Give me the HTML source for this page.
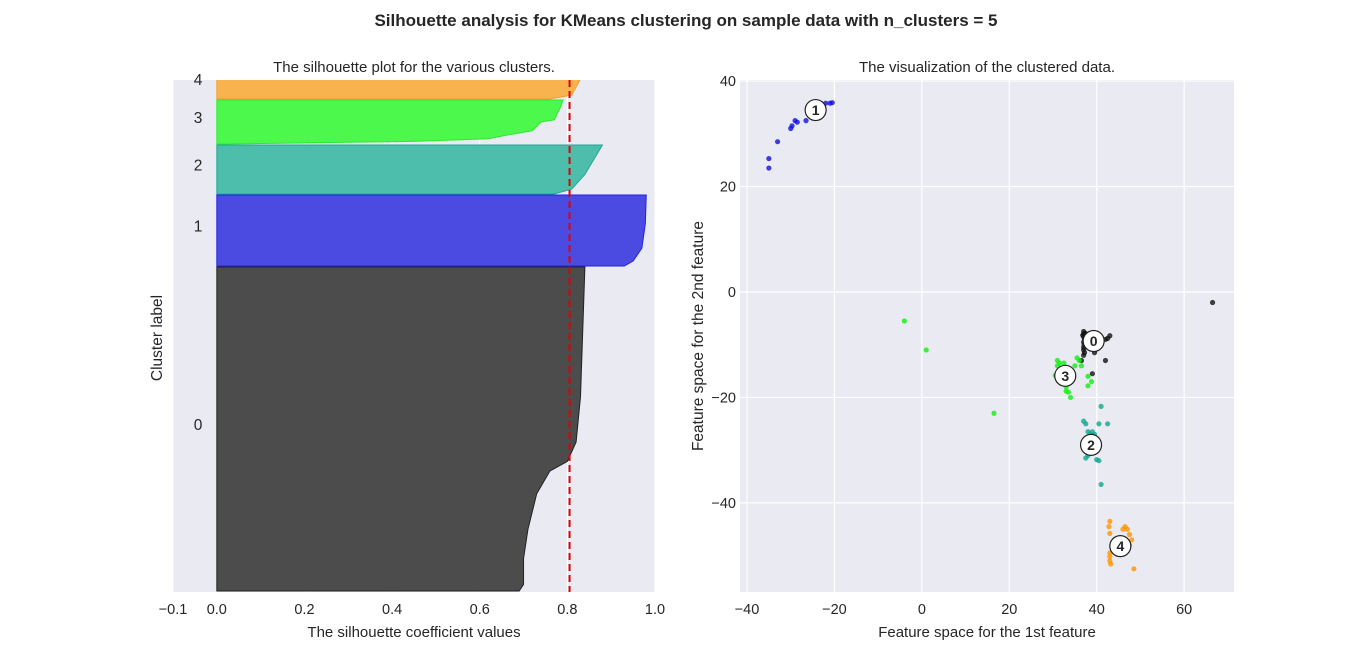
<!DOCTYPE html>
<html><head><meta charset="utf-8"><style>
body{margin:0;background:#fff;font-family:"Liberation Sans","DejaVu Sans",sans-serif;}
svg text{font-family:"Liberation Sans","DejaVu Sans",sans-serif;fill:#262626;}
</style></head><body>
<svg id="fig" width="1372" height="666" xmlns="http://www.w3.org/2000/svg">
<text x="686" y="26" text-anchor="middle" font-size="17" font-weight="bold">Silhouette analysis for KMeans clustering on sample data with n_clusters = 5</text>
<g id="left"></g>
<g id="right"></g>
</svg>
<script>
// ---- silhouette data ----
const clusterIds = [0,1,2,3,4];
const clusterSizes = [3240,710,490,440,400];
// sorted silhouette profiles: [fraction from bottom, value]
const profile0 = [[0,0.69],[0.02,0.70],[0.1,0.70],[0.19,0.71],[0.3,0.73],[0.37,0.76],[0.4,0.80],[0.46,0.82],[0.6,0.83],[0.8,0.835],[1,0.84]];
const profile1 = [[0,0.93],[0.07,0.95],[0.25,0.97],[0.6,0.978],[1,0.98]];
const profile2 = [[0,0.77],[0.1,0.81],[0.4,0.84],[0.7,0.86],[1,0.88]];
const profile3 = [[0,0.02],[0.06,0.45],[0.12,0.62],[0.2,0.66],[0.3,0.72],[0.5,0.74],[0.55,0.77],[0.85,0.785],[1,0.79]];
const profile4 = [[0,0.76],[0.1,0.81],[0.5,0.83],[1,0.88]];
const avgScore = 0.805;
const xTicksL = [-0.1,0.0,0.2,0.4,0.6,0.8,1.0];
const clusterColors = ["#464646","#4545e0","#46bca8","#46f846","#f8b048"];
const clusterEdges = ["#222","#2020ee","#20a890","#30e830","#f0a030"];
// ---- scatter data ----
const pts0 = [[37,-7.5],[37,-8],[37,-8.5],[37.2,-9],[37,-9.5],[37.1,-10],[37,-10.5],[37,-11],[37.2,-11.5],[37,-12],[36.8,-8.2],[37.3,-7.8],[38,-8],[38.5,-9],[40,-9],[41,-9.5],[42,-9],[42.5,-8.8],[43,-8.3],[42,-13],[39.5,-11.5],[39,-15.5],[36.5,-13],[66.5,-2]];
const pts1 = [[-35,23.5],[-35,25.3],[-33,28.5],[-30,31],[-29.7,31.5],[-29,32.5],[-28.5,32.2],[-26.5,32.5],[-25,34],[-24,35.5],[-23,35.7],[-22,35.8],[-21,35.8],[-20.5,35.9]];
const pts2 = [[37,-24.5],[37.5,-25],[38,-26.5],[38.5,-27],[39,-26.5],[38,-28],[37.5,-30],[38,-31],[37.5,-31.5],[40,-31.8],[40.5,-32],[41,-21.7],[42.5,-25],[40.5,-25],[41,-36.5],[39.5,-27]];
const pts3 = [[-4,-5.5],[1,-11],[16.5,-23],[31,-13],[31.5,-13.5],[31,-14],[32,-15],[31,-16],[30.5,-15.8],[33,-18],[33,-18.8],[34,-20],[35,-14],[36,-13],[36.5,-14],[38,-16],[38.8,-17],[38,-17.8],[33.5,-19],[35.5,-12.5],[32.5,-13.5]];
const pts4 = [[43,-43.5],[42.8,-44.5],[43,-45.8],[43,-49.5],[43,-50.2],[43,-51],[43.2,-51.6],[46,-45],[46.5,-44.5],[47,-45],[47.5,-46],[48,-47],[47.5,-48],[46.5,-48.5],[46,-49],[48.5,-52.5],[44,-49]];
const centers = [[39.3,-9.3],[-24.3,34.5],[38.7,-29],[32.8,-15.9],[45.4,-48.2]];
const xTicksR = [-40,-20,0,20,40,60];
const yTicksR = [-40,-20,0,20,40];

const NS="http://www.w3.org/2000/svg";
function mk(tag,attrs,parent,txt){const e=document.createElementNS(NS,tag);for(const k in attrs)e.setAttribute(k,attrs[k]);if(txt!==undefined)e.textContent=txt;parent.appendChild(e);return e;}
const fmt=v=>(v<0?"\u2212":"")+Math.abs(v);

// ---- left plot ----
const L=document.getElementById('left');
const Lx0=173,Lx1=655,Ly0=80,Ly1=592;
const lx=v=>Lx0+(v+0.1)/1.1*(Lx1-Lx0);
const yMax=5120;
const ly=v=>Ly1-v/yMax*(Ly1-Ly0);
const bgL=mk('rect',{x:Lx0,y:Ly0,width:Lx1-Lx0,height:Ly1-Ly0,fill:'#eaeaf2'},L);


for(const t of xTicksL){
 const g=mk('line',{x1:lx(t),x2:lx(t),y1:Ly0,y2:Ly1,stroke:'#fff','stroke-width':1},L);
 
 
 const tl=mk('text',{x:lx(t),y:Ly1+22,'text-anchor':'middle','font-size':14.5},L,t.toFixed(1).replace('-','\u2212'));
 
 
}
const profiles=[profile0,profile1,profile2,profile3,profile4];
const cp=mk('clipPath',{id:'clipL'},L);mk('rect',{x:Lx0,y:Ly0,width:Lx1-Lx0,height:Ly1-Ly0},cp);
const clipG=mk('g',{'clip-path':'url(#clipL)'},L);
let yl=10;
clusterIds.forEach((c,i)=>{
 const size=clusterSizes[i],prof=profiles[i];
 let d=`M${lx(0)},${ly(yl)}`;
 for(const [f,v] of prof) d+=` L${lx(v)},${ly(yl+f*size)}`;
 d+=` L${lx(0)},${ly(yl+size)} Z`;
 const p=mk('path',{d:d,fill:clusterColors[i],stroke:clusterEdges[i],'stroke-width':1,'fill-opacity':0.97},clipG);
 
 
 const ty=Math.max(ly(yl+size/2),Ly0+4);
 const lab=mk('text',{x:198,y:ty+1,'text-anchor':'middle','font-size':15.5},L,String(c));
 
 
 yl+=size+10;
});
const av=mk('line',{x1:lx(avgScore),x2:lx(avgScore),y1:Ly0,y2:Ly1,stroke:'#e00000','stroke-width':2,'stroke-dasharray':'7,4'},L);


const t1=mk('text',{x:(Lx0+Lx1)/2,y:72,'text-anchor':'middle','font-size':15},L,'The silhouette plot for the various clusters.');


const xl=mk('text',{x:(Lx0+Lx1)/2,y:637,'text-anchor':'middle','font-size':15},L,'The silhouette coefficient values');


const yt=mk('text',{x:162,y:338,'text-anchor':'middle','font-size':15.5,transform:'rotate(-90 162 338)'},L,'Cluster label');



// ---- right plot ----
const R=document.getElementById('right');
const Rx0=740,Rx1=1234,Ry0=80,Ry1=592;
const xmin=-41.6,xmax=71.4,ymin=-56.9,ymax=40.2;
const rx=v=>Rx0+(v-xmin)/(xmax-xmin)*(Rx1-Rx0);
const ry=v=>Ry1-(v-ymin)/(ymax-ymin)*(Ry1-Ry0);
const bgR=mk('rect',{x:Rx0,y:Ry0,width:Rx1-Rx0,height:Ry1-Ry0,fill:'#eaeaf2'},R);


for(const t of xTicksR){
 const g=mk('line',{x1:rx(t),x2:rx(t),y1:Ry0,y2:Ry1,stroke:'#fff','stroke-width':1.2},R);
 
 
 const tl=mk('text',{x:rx(t),y:Ry1+22,'text-anchor':'middle','font-size':14.5},R,fmt(t));
 
 
}
for(const t of yTicksR){
 const g=mk('line',{x1:Rx0,x2:Rx1,y1:ry(t),y2:ry(t),stroke:'#fff','stroke-width':1.2},R);
 
 
 const tl=mk('text',{x:Rx0-4,y:ry(t)+5,'text-anchor':'end','font-size':14.5},R,fmt(t));
 
 
}
const allPts=[pts0,pts1,pts2,pts3,pts4];
const ptColors=["#111","#1010dd","#10a890","#10f010","#ff9500"];
allPts.forEach((pts,i)=>{
 for(const [x,y] of pts){
  const c=mk('circle',{cx:rx(x),cy:ry(y),r:2.6,fill:ptColors[i],'fill-opacity':0.8},R);
  
  
 }
});
centers.forEach(([x,y],i)=>{
 const c=mk('circle',{cx:rx(x),cy:ry(y),r:10.5,fill:'#fff',stroke:'#222','stroke-width':1.2},R);
 
 
 const t=mk('text',{x:rx(x),y:ry(y)+5,'text-anchor':'middle','font-size':14,'font-weight':'bold'},R,String(i));
 
 
});
const t2=mk('text',{x:(Rx0+Rx1)/2,y:72,'text-anchor':'middle','font-size':15},R,'The visualization of the clustered data.');


const xr=mk('text',{x:(Rx0+Rx1)/2,y:637,'text-anchor':'middle','font-size':15},R,'Feature space for the 1st feature');


const yr=mk('text',{x:703,y:336,'text-anchor':'middle','font-size':15.5,transform:'rotate(-90 703 336)'},R,'Feature space for the 2nd feature');


</script>
</body></html>
